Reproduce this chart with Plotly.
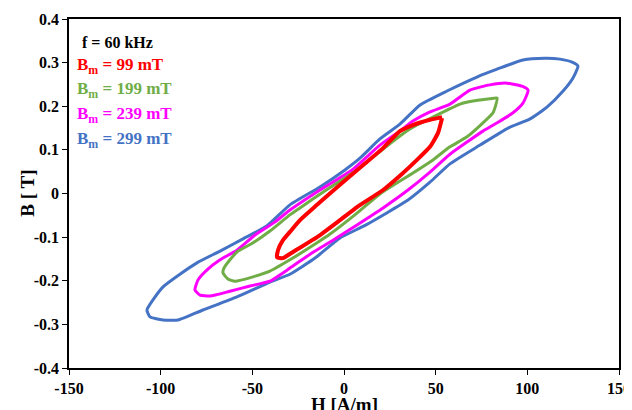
import plotly.graph_objects as go

# Loop data (H in A/m, B in T), traced around each closed loop
H_299 = [127.6, 124.4, 117.8, 109.6, 97.6, 83.5, 72.5, 56.2, 41.5, 30.5, 19.6, 8.7, 0.5, -13.1, -29.5, -42.0, -55.1,
         -67.6, -80.2, -89.5, -98.7, -104.2, -107.5, -105.8, -98.7, -90.5,
         -76.9, -58.4, -40.4, -29.5, -15.8, -2.2, 12.0, 34.9, 46.9, 57.8, 74.2, 89.5, 101.5, 110.7, 119.5, 124.9, 127.6]
B_299 = [0.292, 0.301, 0.308, 0.310, 0.306, 0.285, 0.267, 0.235, 0.203, 0.159, 0.125, 0.081, 0.054, 0.015, -0.026, -0.074, -0.104,
         -0.132, -0.159, -0.185, -0.214, -0.244, -0.267, -0.283, -0.290, -0.290,
         -0.267, -0.237, -0.203, -0.185, -0.148, -0.102, -0.072, -0.015, 0.026, 0.068, 0.111, 0.150, 0.171, 0.198, 0.235, 0.265, 0.292]

H_239 = [100.4, 97.1, 88.9, 79.6, 68.7, 57.8, 46.9, 37.6, 30.5, 19.6, 4.4, -13.1, -29.5, -37.6, -48.5, -58.4, -67.6, -74.7, -79.6, -81.3,
         -78.5, -73.1, -62.2,
         -51.3, -40.4, -29.5, -18.5, -6.0, 7.1, 21.3, 34.9, 46.9, 57.8, 75.8, 83.5, 92.2, 97.6, 100.4]
B_239 = [0.237, 0.246, 0.253, 0.249, 0.237, 0.205, 0.187, 0.166, 0.143, 0.111, 0.054, 0.008, -0.038, -0.065, -0.095, -0.130, -0.152, -0.175, -0.198, -0.221,
         -0.233, -0.235, -0.224,
         -0.212, -0.201, -0.171, -0.139, -0.107, -0.072, -0.033, 0.008, 0.049, 0.090, 0.143, 0.162, 0.185, 0.207, 0.237]

H_199 = [83.5, 79.6, 70.4, 63.3, 56.2, 48.5, 37.6, 30.5, 18.0, 7.1, -11.5, -24.0, -29.5, -40.4, -49.6, -58.4, -62.2, -65.5, -66.0,
         -63.3, -59.5, -49.6,
         -40.4, -29.5, -14.7, -7.6, 7.1, 19.6, 37.6, 48.5, 57.8, 67.1, 75.8, 81.3, 83.5]
B_199 = [0.219, 0.217, 0.212, 0.205, 0.191, 0.175, 0.152, 0.132, 0.091, 0.054, 0.003, -0.033, -0.049, -0.086, -0.113, -0.134, -0.152, -0.171, -0.182,
         -0.196, -0.201, -0.191,
         -0.178, -0.152, -0.113, -0.093, -0.045, -0.001, 0.047, 0.077, 0.107, 0.130, 0.162, 0.185, 0.219]

H_99 = [53.5, 46.9, 37.6, 30.5, 21.3, 8.7, -5.5, -14.7, -24.0, -29.5, -33.3, -36.0, -36.5,
        -33.3, -27.8, -14.7, -2.2, 7.1, 21.3, 32.2, 39.8, 46.9, 51.3, 53.5]
B_99 = [0.175, 0.169, 0.157, 0.143, 0.104, 0.059, 0.008, -0.026, -0.061, -0.088, -0.107, -0.130, -0.146,
        -0.148, -0.134, -0.100, -0.061, -0.031, 0.008, 0.047, 0.077, 0.107, 0.139, 0.173]

series_labels = ["B<sub>m</sub> = 99 mT", "B<sub>m</sub> = 199 mT", "B<sub>m</sub> = 239 mT", "B<sub>m</sub> = 299 mT"]
freq_label = "f = 60 kHz"
x_title = "H [A/m]"
y_title = "B [ T]"

x_ticks = [-150, -100, -50, 0, 50, 100, 150]
x_ticktext = ["-150", "-100", "-50", "0", "50", "100", "150"]
y_ticks = [-0.4, -0.3, -0.2, -0.1, 0, 0.1, 0.2, 0.3, 0.4]
y_ticktext = ["-0.4", "-0.3", "-0.2", "-0.1", "0", "0.1", "0.2", "0.3", "0.4"]

RED, GREEN, MAG, BLUE = "#FF0000", "#70AD47", "#FF00FF", "#4472C4"

fig = go.Figure()
for H, B, col, w in [(H_299, B_299, BLUE, 3), (H_239, B_239, MAG, 3),
                     (H_199, B_199, GREEN, 3), (H_99, B_99, RED, 4)]:
    fig.add_trace(go.Scatter(x=H, y=B, mode="lines", line=dict(color=col, width=w, shape="spline", smoothing=0.5),
                             showlegend=False, hoverinfo="skip"))

font_serif = "Liberation Serif"
ann = [dict(text=freq_label, x=0.02, y=0.934, color="black", size=16)]
for lab, col, yy in zip(series_labels, [RED, GREEN, MAG, BLUE], [0.865, 0.797, 0.725, 0.653]):
    ann.append(dict(text=lab, x=0.011, y=yy, color=col, size=17))
for a in ann:
    fig.add_annotation(text=a["text"], xref="paper", yref="paper", x=a["x"], y=a["y"],
                       xanchor="left", yanchor="middle", showarrow=False,
                       font=dict(family=font_serif, size=a["size"], color=a["color"], weight="bold"))

# axis titles
fig.add_annotation(text=x_title, xref="paper", yref="paper", x=0.5, y=-0.106,
                   xanchor="center", yanchor="middle", showarrow=False,
                   font=dict(family=font_serif, size=19, color="black", weight="bold"))
fig.add_annotation(text=y_title, xref="paper", yref="paper", x=-0.076, y=0.5, textangle=-90,
                   xanchor="center", yanchor="middle", showarrow=False,
                   font=dict(family=font_serif, size=19, color="black", weight="bold"))

# the page body has an 8px margin; the figure is sized to fit the window without scrolling
# and the margins put the plot area at x 69-619, y 19-368 of the window
fig.update_layout(
    width=624, height=402,
    margin=dict(l=61, r=13, t=11, b=42),
    paper_bgcolor="white", plot_bgcolor="white",
    font=dict(family=font_serif, color="black"),
)
fig.update_xaxes(range=[-150, 150], tickvals=x_ticks, ticktext=x_ticktext,
                 automargin=False, showgrid=False, zeroline=False, showline=True, linecolor="black", linewidth=1.5,
                 mirror=True, ticks="outside", ticklen=5, tickcolor="black",
                 tickfont=dict(family=font_serif, size=16, color="black", weight="bold"))
fig.update_yaxes(range=[-0.4, 0.4], tickvals=y_ticks, ticktext=y_ticktext,
                 automargin=False, showgrid=False, zeroline=False, showline=True, linecolor="black", linewidth=1.5,
                 mirror=True, ticks="outside", ticklen=5, tickcolor="black",
                 tickfont=dict(family=font_serif, size=16, color="black", weight="bold"))

fig.write_html("out.html")
